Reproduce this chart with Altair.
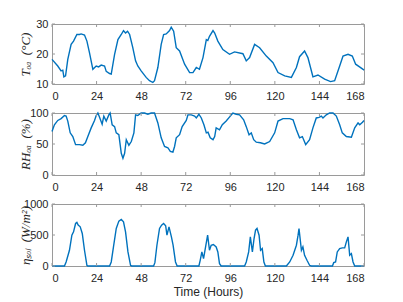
import altair as alt
import pandas as pd

# ---------------- data ----------------
T_hours = [0, 3.1, 4.9, 5.8, 6.4, 7.3, 8.5, 10.3, 11.6, 13.4, 14.8, 15.7, 17.5, 18.8, 20.2, 22.0,
           23.8, 25.1, 26.5, 28.3, 29.2, 31.0, 31.9, 33.7, 35.5, 37.3, 38.5, 39.6, 40.7, 41.8,
           43.5, 45.0, 46.2, 48.0, 50.7, 52.5, 54.3, 55.2, 57.0, 58.8, 60.1, 61.5, 63.3, 64.2,
           65.5, 66.9, 68.7, 71.4, 74.1, 75.9, 77.7, 79.4, 81.3, 83.1, 83.9, 84.8, 86.7, 87.6,
           89.3, 92.0, 95.6, 98.3, 102.8, 104.6, 106.4, 109.1, 111.8, 115.4, 119.0, 121.7,
           125.3, 128.9, 131.6, 133.3, 136.0, 137.8, 140.5, 143.2, 146.8, 150.0, 152.2, 154.9,
           156.7, 159.4, 161.7, 163.5, 165.6, 167.5, 168]
T_values = [18.2, 16.0, 14.4, 14.6, 12.4, 12.7, 18.2, 23.2, 24.3, 26.5, 26.5, 26.7, 26.3, 24.3,
            20.4, 14.9, 16.0, 15.7, 16.3, 16.0, 14.2, 13.5, 13.3, 19.9, 24.8, 26.5, 27.8, 27.0,
            27.6, 26.5, 22.1, 17.7, 16.0, 14.4, 12.2, 11.1, 10.5, 11.1, 15.5, 23.2, 26.5, 26.7,
            27.8, 28.9, 27.6, 22.1, 21.0, 16.6, 13.8, 13.8, 15.5, 14.9, 18.8, 24.8, 24.5, 25.9,
            27.8, 27.0, 24.3, 21.5, 19.9, 20.7, 20.1, 17.7, 18.8, 23.2, 22.1, 19.3, 17.1, 13.8,
            12.7, 12.2, 15.5, 19.1, 21.0, 18.8, 12.4, 13.0, 11.6, 10.8, 11.1, 16.0, 19.3, 19.9,
            19.3, 16.6, 15.7, 14.9, 14.6]

RH_hours = [0, 1.3, 3.1, 4.9, 6.7, 7.6, 8.5, 9.8, 11.2, 12.7, 14.8, 16.6, 18.0, 19.3, 21.1, 22.9,
            23.8, 24.7, 25.6, 27.0, 27.9, 29.2, 30.6, 31.3, 32.4, 33.7, 34.6, 36.0, 37.3, 38.2,
            39.1, 40.0, 41.4, 42.7, 44.1, 45.0, 46.2, 48.0, 49.8, 51.6, 53.4, 55.2, 57.0, 58.8,
            60.6, 62.4, 63.7, 65.1, 66.0, 66.9, 68.7, 70.1, 72.3, 73.2, 75.0, 76.8, 77.7, 79.1,
            80.4, 81.8, 83.1, 84.0, 85.2, 86.7, 87.6, 88.4, 90.2, 91.7, 93.8, 96.0, 97.4, 99.2,
            101.0, 103.2, 104.6, 106.1, 107.3, 108.6, 110.0, 112.2, 114.5, 117.2, 119.9, 121.7,
            124.4, 128.0, 129.8, 131.6, 133.3, 134.8, 136.6, 138.7, 140.5, 142.3, 143.8, 145.0,
            145.9, 147.7, 149.5, 151.3, 153.1, 154.9, 156.3, 158.5, 161.2, 163.0, 164.8, 165.7,
            167.2, 168]
RH_values = [70, 81, 88, 91, 96, 95, 87, 68, 62, 49, 49, 48, 52, 62, 76, 88, 96, 100, 93, 82, 95,
             87, 97, 100, 81, 78, 68, 65, 35, 27, 35, 57, 48, 54, 68, 97, 96, 100, 100, 98, 100,
             100, 84, 60, 46, 44, 38, 37, 46, 60, 65, 78, 88, 97, 97, 95, 92, 98, 92, 81, 68, 69,
             60, 57, 62, 76, 73, 81, 87, 95, 100, 98, 97, 89, 78, 65, 68, 57, 53, 52, 50, 54, 68,
             87, 91, 91, 89, 73, 60, 62, 49, 57, 76, 92, 93, 95, 92, 97, 100, 100, 95, 81, 68, 62,
             61, 76, 84, 81, 85, 88]

SOL_hours = [0, 6.7, 7.6, 9.4, 10.7, 11.6, 12.7, 13.4, 14.1, 15.2, 16.3, 17.5, 18.8, 19.3,
             31.0, 31.9, 33.1, 34.6, 36.0, 37.3, 38.5, 39.6, 40.9, 42.3, 42.9,
             54.7, 55.4, 56.5, 57.9, 59.0, 60.1, 61.2, 61.9, 63.0, 64.3, 65.2, 66.5, 67.4,
             79.1, 79.8, 80.7, 81.6, 82.7, 83.8, 84.8, 85.7, 86.9, 88.4, 89.3, 90.2, 91.1,
             103.7, 104.6, 105.9, 106.8, 107.9, 108.8, 109.6, 110.4, 111.5, 112.3, 113.2, 114.1, 114.9,
             126.2, 128.0, 129.8, 131.6, 132.5, 133.0, 133.7, 134.3, 135.1, 136.0, 137.3, 138.7, 139.6,
             151.0, 151.7, 152.7, 153.6, 154.9, 156.3, 157.6, 158.5, 159.4, 160.3, 161.2, 162.1, 163.0,
             168]
SOL_values = [0, 0, 65, 254, 497, 551, 686, 703, 659, 632, 524, 254, 11, 0,
              0, 65, 308, 605, 724, 751, 713, 551, 227, 11, 0,
              0, 54, 335, 605, 659, 686, 650, 497, 632, 470, 335, 65, 0,
              0, 92, 227, 119, 308, 497, 254, 335, 346, 308, 227, 38, 0,
              0, 65, 227, 470, 227, 443, 578, 605, 497, 254, 281, 65, 0,
              0, 65, 173, 335, 497, 605, 416, 254, 308, 173, 92, 11, 0,
              0, 54, 65, 227, 281, 292, 292, 389, 470, 173, 200, 65, 0,
              0]

X_TICKS = [0, 24, 48, 72, 96, 120, 144, 168]
T_TICKS = [10, 20, 30]
RH_TICKS = [0, 50, 100]
SOL_TICKS = [0, 500, 1000]

T_TITLE = "T\u2092\u2090\u2002(\u00b0C)"
RH_TITLE = "RH\u2092\u2090\u2002(%)"
SOL_TITLE = "\u03b7\u209b\u2092\u2097\u2002(W/m\u00b2)"

# ---------------- styling ----------------
W = 312
BLUE = "#0072BD"
FRAME = "#9a9a9a"
TEXT = "#262626"
SANS = "Liberation Sans"
SERIF = "Liberation Serif"
TICK = 3


def panel(hours, values, ydomain, yticks, ytitle, h, xtitle=""):
    df = pd.DataFrame({"h": hours, "v": values})
    xscale = alt.Scale(domain=[0, 168], nice=False, zero=False)
    yscale = alt.Scale(domain=ydomain, nice=False, zero=False)
    xaxis = alt.Axis(values=X_TICKS, format="d", tickSize=0, domain=False, grid=False,
                     labelPadding=6, labelFont=SANS, labelFontSize=11, labelColor=TEXT,
                     title=xtitle, titleFont=SANS, titleFontSize=12, titleFontWeight="normal",
                     titleColor=TEXT, titlePadding=3)
    yaxis = alt.Axis(values=yticks, format="d", tickSize=0, domain=False, grid=False,
                     labelPadding=4, labelFont=SANS, labelFontSize=11, labelColor=TEXT,
                     title=ytitle, titleFont=SERIF, titleFontStyle="italic",
                     titleFontWeight="normal", titleFontSize=13, titleColor=TEXT,
                     titleAngle=270, titleX=-23, titleY=h / 2, titleAlign="center",
                     titleBaseline="alphabetic")
    X = alt.X("h:Q", scale=xscale, axis=xaxis)
    Y = alt.Y("v:Q", scale=yscale, axis=yaxis)
    line = alt.Chart(df).mark_line(color=BLUE, strokeWidth=1.4).encode(x=X, y=Y)
    xt = pd.DataFrame({"h": X_TICKS})
    yt = pd.DataFrame({"v": yticks})
    bx = alt.Chart(xt).mark_rule(color=FRAME, strokeWidth=1).encode(
        x=X, y=alt.value(h), y2=alt.value(h - TICK))
    tx = alt.Chart(xt).mark_rule(color=FRAME, strokeWidth=1).encode(
        x=X, y=alt.value(0), y2=alt.value(TICK))
    ly = alt.Chart(yt).mark_rule(color=FRAME, strokeWidth=1).encode(
        y=Y, x=alt.value(0), x2=alt.value(TICK))
    ry = alt.Chart(yt).mark_rule(color=FRAME, strokeWidth=1).encode(
        y=Y, x=alt.value(W), x2=alt.value(W - TICK))
    return alt.layer(line, bx, tx, ly, ry).properties(width=W, height=h)


p1 = panel(T_hours, T_values, [10, 30], T_TICKS, T_TITLE, 60)
p2 = panel(RH_hours, RH_values, [0, 100], RH_TICKS, RH_TITLE, 62)
p3 = panel(SOL_hours, SOL_values, [0, 1000], SOL_TICKS, SOL_TITLE, 62, "Time (Hours)")

chart = alt.vconcat(p1, p2, p3, spacing=29, bounds="flush").properties(
    padding={"left": 10, "top": 9, "right": 5, "bottom": 2},
    background="white",
).configure_view(stroke=FRAME, strokeWidth=1)

chart.save("out.html", embed_options={"renderer": "svg", "actions": False})
